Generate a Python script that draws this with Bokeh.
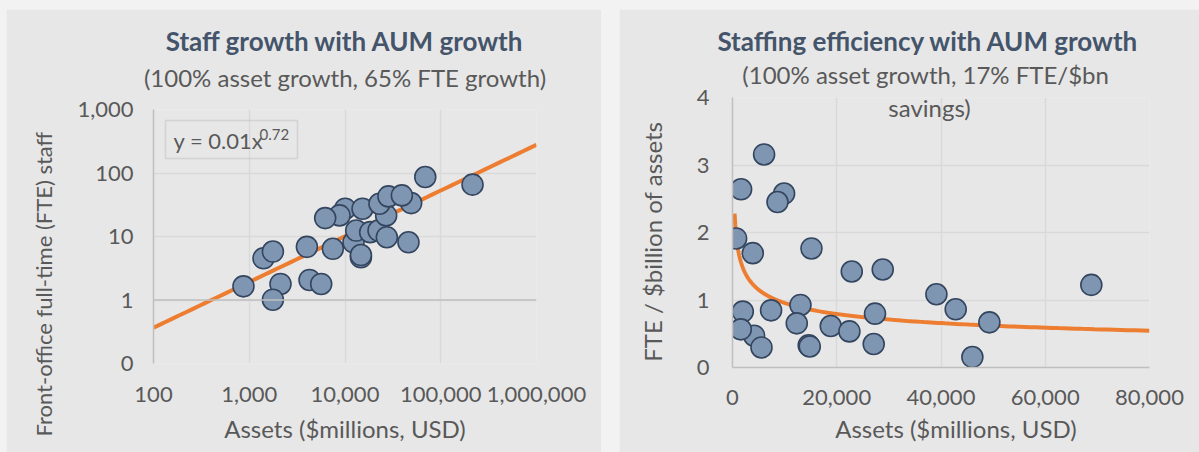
import numpy as np
from bokeh.plotting import figure
from bokeh.layouts import row, column
from bokeh.models import (Label, Span, FixedTicker, BoxAnnotation, NumeralTickFormatter,
                          Title, LinearAxis, Spacer)
from bokeh.embed import file_html
from bokeh.resources import INLINE

FONT = "Lato"
PANEL = "#e7e7e7"
OUTER = "#f2f2f2"
GRID = "#d9d9d9"
AXIS = "#bfbfbf"
TEXT = "#595959"
TITLE = "#44546a"
ORANGE = "#ed7d31"
MFILL = "#7f96b2"
MEDGE = "#34465f"
NB = "\u00a0"

# ---------------- Left chart data ----------------
left_assets = [870, 2120, 1766, 1410, 1766, 4000, 4260, 5640, 7470, 10050, 8770, 6210,
               15240, 12270, 13090, 14660, 14660, 18320, 22390, 27350, 26900, 22900,
               28430, 49100, 39260, 46000, 68900, 214800]
left_fte = [1.64, 1.79, 1.01, 4.54, 5.8, 6.87, 2.07, 1.79, 6.4, 27.4, 21.5, 19.5,
            27.4, 8.1, 12.4, 4.7, 5.1, 11.7, 12.4, 9.75, 21.5, 32.8,
            42.8, 33.6, 44.4, 8.1, 86.5, 65.6]
left_x_ticks = [100, 1000, 10000, 100000, 1000000]
left_y_ticks = [0.1, 1, 10, 100, 1000]
left_fit_coef = 0.0133
left_fit_exp = 0.72
left_fit_range = (100, 1000000)

# ---------------- Right chart data ----------------
right_assets = [6060, 1650, 9900, 8630, 690, 3890, 15150, 22880, 28820, 39120, 42820,
                49280, 46020, 68840, 1975, 4140, 1590, 5560, 7400, 13040, 12330,
                14620, 14820, 18850, 22430, 27340, 27090]
right_fte_per_bn = [3.156, 2.64, 2.577, 2.452, 1.912, 1.694, 1.764, 1.422, 1.452, 1.085, 0.862,
                    0.669, 0.155, 1.224, 0.828, 0.471, 0.565, 0.297, 0.847, 0.927, 0.654,
                    0.33, 0.312, 0.615, 0.535, 0.798, 0.348]
right_x_ticks = [0, 20000, 40000, 60000, 80000]
right_y_ticks = [0, 1, 2, 3, 4]
right_fit_coef = 11.5
right_fit_exp = -0.27
right_fit_range = (400, 80000)


def label(p, x, y, text, size, color=TEXT, align="left"):
    p.add_layout(Label(x=x, y=y, x_units="screen", y_units="screen", text=text,
                       text_font=FONT, text_font_size=f"{size}px", text_color=color,
                       text_align=align, text_baseline="middle"))


def style(p, xticks, yticks, xstand, ystand, xlab, ylab, xls, yls, xsize, ysize):
    p.xaxis.ticker = FixedTicker(ticks=xticks)
    p.yaxis.ticker = FixedTicker(ticks=yticks)
    for ax in (p.xaxis[0], p.yaxis[0]):
        ax.formatter = NumeralTickFormatter(format="0,0")
        ax.major_tick_line_color = None
        ax.minor_tick_line_color = None
        ax.major_tick_out = 0
        ax.major_tick_in = 0
        ax.minor_tick_out = 0
        ax.major_label_text_font = FONT
        ax.major_label_text_font_size = "22px"
        ax.major_label_text_color = TEXT
        ax.axis_line_color = AXIS
        ax.axis_line_width = 1.5
        ax.axis_label_text_font = FONT
        ax.axis_label_text_color = TEXT
        ax.axis_label_text_font_style = "normal"
    p.xaxis.axis_label_text_font_size = f"{xsize}px"
    p.yaxis.axis_label_text_font_size = f"{ysize}px"
    p.xaxis.major_label_standoff = xstand
    p.yaxis.major_label_standoff = ystand
    p.xaxis.axis_label = xlab
    p.yaxis.axis_label = ylab
    p.xaxis.axis_label_standoff = xls
    p.yaxis.axis_label_standoff = yls
    p.grid.grid_line_color = GRID
    p.grid.grid_line_width = 1.5


def titles(p, title, subtitle, sub_standoff, title_standoff):
    sub_ax = LinearAxis(ticker=FixedTicker(ticks=[]), axis_line_color=None,
                        major_tick_line_color=None, minor_tick_line_color=None,
                        major_tick_out=0, minor_tick_out=0, major_label_standoff=0,
                        axis_label=subtitle, axis_label_standoff=sub_standoff,
                        axis_label_text_font=FONT, axis_label_text_font_size="24px",
                        axis_label_text_color=TEXT, axis_label_text_font_style="normal")
    p.add_layout(sub_ax, "above")
    p.add_layout(Title(text=title, text_font=FONT, text_font_size="26px",
                       text_font_style="bold", text_color=TITLE, align="center",
                       standoff=title_standoff), "above")


# ---------------- Left figure ----------------
p1 = figure(width=595, height=443, x_axis_type="log", y_axis_type="log",
            x_range=(100, 1000000), y_range=(0.1, 1000),
            output_backend="svg", toolbar_location=None,
            min_border_left=147, min_border_right=65, min_border_top=100, min_border_bottom=89,
            background_fill_color=PANEL, border_fill_color=PANEL, outline_line_color=None)
style(p1, left_x_ticks, left_y_ticks, 23, 20,
      "Assets ($millions, USD)", "Front-office full-time (FTE) staff" + NB * 17, 9, 17, 24, 22)
p1.xaxis.axis_line_color = None
p1.add_layout(Span(location=1, dimension="width", line_color=AXIS, line_width=1.5))
titles(p1, "Staff growth with AUM growth", "(100% asset growth, 65% FTE growth)", 18, 5)

fx = np.geomspace(*left_fit_range, 60)
p1.line(fx, left_fit_coef * fx ** left_fit_exp, line_color=ORANGE, line_width=4)
p1.scatter(left_assets, left_fte, size=21, fill_color=MFILL, line_color=MEDGE, line_width=1.6)

p1.add_layout(BoxAnnotation(left=12, right=144, top=243, bottom=205,
                            left_units="screen", right_units="screen",
                            top_units="screen", bottom_units="screen",
                            fill_alpha=0, line_color="#a6a6a6", line_width=1.5))
label(p1, 20, 223, "y = 0.01x", 22)
label(p1, 106, 229, "0.72", 15)

# ---------------- Right figure ----------------
p2 = figure(width=580, height=443,
            x_range=(0, 80000), y_range=(0, 4),
            output_backend="svg", toolbar_location=None,
            min_border_left=113, min_border_right=50, min_border_top=88, min_border_bottom=85,
            background_fill_color=PANEL, border_fill_color=PANEL, outline_line_color=None)
style(p2, right_x_ticks, right_y_ticks, 22, 23,
      NB * 5 + "Assets ($millions, USD)", "FTE / $billion of assets" + NB * 3, 6, 27, 24, 24)
titles(p2, "Staffing efficiency with AUM growth" + NB * 4,
       "(100% asset growth, 17% FTE/$bn" + NB * 5, 9, 0)

rx = np.geomspace(*right_fit_range, 300)
p2.line(rx, right_fit_coef * rx ** right_fit_exp, line_color=ORANGE, line_width=4)
p2.scatter(right_assets, right_fte_per_bn, size=21, fill_color=MFILL, line_color=MEDGE, line_width=1.6)
label(p2, 197, 260, "savings)", 24, align="center")

inner = row(Spacer(width=6), column(p1), Spacer(width=18), column(p2))
layout = column(Spacer(height=9), inner, styles={"background-color": OUTER})

open("out.html", "w").write(file_html(layout, INLINE))
